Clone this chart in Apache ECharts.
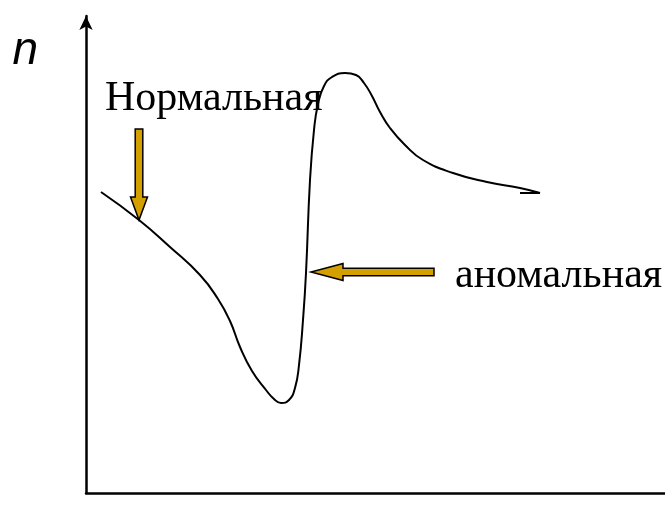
<!DOCTYPE html>
<html>
<head>
<meta charset="utf-8">
<title>n</title>
<script src="https://cdn.jsdelivr.net/npm/echarts@6/dist/echarts.min.js"></script>
<style>
html, body {
	margin: 0;
	padding: 0;
	background: #fff;
}
#chart {
	width: 665px;
	height: 518px;
}
</style>
</head>
<body>
<div id="chart"></div>
<script type="text/javascript">
    // curve n(lambda), arbitrary units
    var curveX = [15, 53, 84, 114, 132, 144, 154, 166, 180, 188, 195, 203, 209, 213, 217, 220, 224, 228, 232, 238, 246, 259, 270, 278, 286, 294, 304, 319, 337, 367, 401, 434, 454];
    var curveY = [301, 273, 246, 218, 194, 172, 146, 122, 103, 94, 90, 93, 105, 128, 173, 220, 313, 363, 389, 407, 416, 420, 418, 410, 397, 381, 365, 348, 333, 320, 311, 305, 300];
    // little hook at the end of the curve
    var hookX = [454, 434];
    var hookY = [300, 300];

    // arrows: tail -> tip
    var arrowTail = [[53, 364], [348, 221]];
    var arrowTip = [[53, 273], [225, 221]];

    // labels
    var labelText = ['Нормальная', 'аномальная'];
    var labelPos = [[19, 394], [369, 217]];

    var xMax = 579;
    var yMax = 477;

    var arrowHeadLen = [23, 32];

    function pairs(xs, ys) {
        var out = [];
        for (var i = 0; i < xs.length; i++) out.push([xs[i], ys[i]]);
        return out;
    }

    var arrowData = [];
    for (var i = 0; i < arrowTail.length; i++) {
        arrowData.push([arrowTail[i][0], arrowTail[i][1], arrowTip[i][0], arrowTip[i][1]]);
    }
    var labelData = [];
    for (var j = 0; j < labelText.length; j++) {
        labelData.push([labelPos[j][0], labelPos[j][1], labelText[j]]);
    }

    var myChart = echarts.init(document.getElementById('chart'));

    option = {
        animation: false,
        backgroundColor: '#fff',
        grid: {left: 86, right: 0, top: 16, bottom: 25},
        xAxis: {
            type: 'value',
            min: 0,
            max: xMax,
            axisLine: {show: true, onZero: false, lineStyle: {color: '#000', width: 2.5}},
            axisTick: {show: false},
            axisLabel: {show: false},
            splitLine: {show: false}
        },
        yAxis: {
            type: 'value',
            min: 0,
            max: yMax,
            name: 'n',
            nameLocation: 'end',
            nameGap: -58,
            nameTextStyle: {
                fontFamily: 'Liberation Sans',
                fontStyle: 'italic',
                fontSize: 46,
                color: '#000',
                align: 'right',
                padding: [0, 48, 0, 0]
            },
            axisLine: {
                show: true,
                onZero: false,
                symbol: ['none', 'arrow'],
                symbolSize: [10, 14],
                lineStyle: {color: '#000', width: 2.5}
            },
            axisTick: {show: false},
            axisLabel: {show: false},
            splitLine: {show: false}
        },
        series: [{
            type: 'line',
            data: pairs(curveX, curveY),
            smooth: 0.5,
            showSymbol: false,
            lineStyle: {color: '#000', width: 2}
        }, {
            type: 'line',
            data: pairs(hookX, hookY),
            showSymbol: false,
            lineStyle: {color: '#000', width: 2}
        }, {
            type: 'custom',
            clip: false,
            data: arrowData,
            renderItem: function (params, api) {
                var a = api.coord([api.value(0), api.value(1)]);
                var b = api.coord([api.value(2), api.value(3)]);
                var dx = b[0] - a[0], dy = b[1] - a[1];
                var len = Math.sqrt(dx * dx + dy * dy);
                var ux = dx / len, uy = dy / len;
                var nx = -uy, ny = ux;
                var sw = 3.8, hw = 8.5;
                var hl = arrowHeadLen[params.dataIndex];
                var nk = [b[0] - ux * hl, b[1] - uy * hl];
                var pts = [
                    [a[0] + nx * sw, a[1] + ny * sw],
                    [nk[0] + nx * sw, nk[1] + ny * sw],
                    [nk[0] + nx * hw, nk[1] + ny * hw],
                    b,
                    [nk[0] - nx * hw, nk[1] - ny * hw],
                    [nk[0] - nx * sw, nk[1] - ny * sw],
                    [a[0] - nx * sw, a[1] - ny * sw]
                ];
                return {
                    type: 'polygon',
                    shape: {points: pts},
                    style: {fill: '#d4a000', stroke: '#000', lineWidth: 1.5}
                };
            }
        }, {
            type: 'scatter',
            clip: false,
            symbolSize: 0,
            itemStyle: {opacity: 1},
            data: labelData,
            label: {
                show: true,
                position: 'right',
                distance: 0,
                formatter: function (p) { return p.value[2]; },
                fontFamily: 'Liberation Serif',
                fontSize: 42,
                color: '#000',
                opacity: 1
            }
        }]
    };

    myChart.setOption(option);
</script>
</body>
</html>
